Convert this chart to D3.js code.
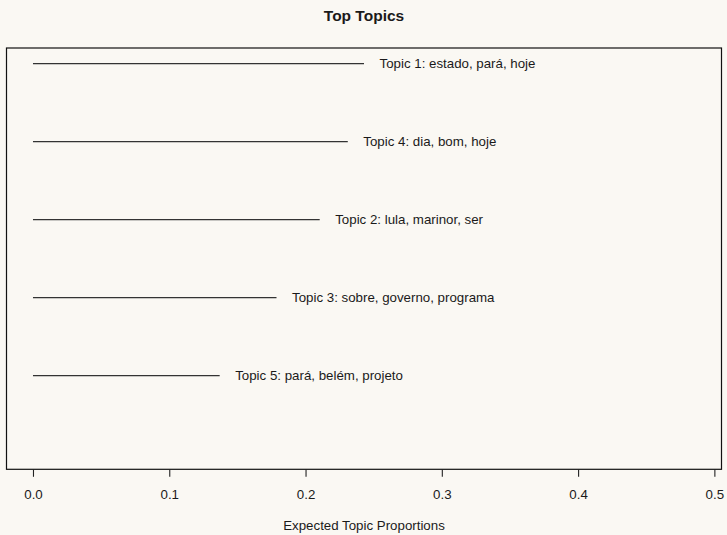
<!DOCTYPE html>
<html>
<head>
<meta charset="utf-8">
<script src="https://cdn.jsdelivr.net/npm/d3@7"></script>
<style>
  html, body { margin: 0; padding: 0; background: #faf8f3; }
  svg { display: block; }
  text { font-family: "Liberation Sans", Arial, Helvetica, sans-serif; fill: #1a1a1a; }
</style>
</head>
<body>
<svg id="chart" width="727" height="535"></svg>
<script>
// Data
const topicLabels = [
  "Topic 1: estado, pará, hoje",
  "Topic 4: dia, bom, hoje",
  "Topic 2: lula, marinor, ser",
  "Topic 3: sobre, governo, programa",
  "Topic 5: pará, belém, projeto"
];
const topicProportions = [0.2429, 0.2310, 0.2104, 0.1787, 0.1370];
const xTickValues = [0, 0.1, 0.2, 0.3, 0.4, 0.5];
const xTickLabels = ["0.0", "0.1", "0.2", "0.3", "0.4", "0.5"];
const chartTitle = "Top Topics";
const xAxisTitle = "Expected Topic Proportions";

const svg = d3.select("#chart");
const W = 727, H = 535;
const box = { left: 6.5, right: 721.5, top: 48, bottom: 469.3 };

svg.append("rect").attr("width", W).attr("height", H).attr("fill", "#faf8f3");

const xmax = 2 * d3.max(topicProportions);
const x = d3.scaleLinear()
  .domain([-0.04 * xmax, 1.04 * xmax])
  .range([box.left, box.right]);

const n = topicProportions.length;
const y = d3.scaleLinear()
  .domain([-0.04 * n, n + 0.04 * n])
  .range([box.bottom, box.top]);

// Lines and labels (top topic at y = n)
const g = svg.append("g");
topicProportions.forEach((v, i) => {
  const yy = y(n - i);
  g.append("line")
    .attr("x1", x(0)).attr("x2", x(v))
    .attr("y1", yy).attr("y2", yy)
    .attr("stroke", "#333").attr("stroke-width", 1.2);
  g.append("text")
    .attr("x", x(v) + 15.5)
    .attr("y", yy)
    .attr("dy", "0.36em")
    .attr("font-size", 13.3)
    .text(topicLabels[i]);
});

// Box
svg.append("rect")
  .attr("x", box.left).attr("y", box.top)
  .attr("width", box.right - box.left).attr("height", box.bottom - box.top)
  .attr("fill", "none").attr("stroke", "#111").attr("stroke-width", 1.2);

// Axis
const axis = d3.axisBottom(x)
  .tickValues(xTickValues)
  .tickFormat((d, i) => xTickLabels[i])
  .tickSize(7.5)
  .tickPadding(0);
const ax = svg.append("g")
  .attr("transform", `translate(0,${box.bottom})`)
  .call(axis);
ax.select(".domain").remove();
ax.selectAll(".tick line").attr("stroke", "#222").attr("stroke-width", 1.1);
ax.selectAll(".tick text")
  .attr("y", 30)
  .attr("dy", null)
  .attr("font-size", 13.3)
  .attr("font-family", "Liberation Sans, Arial, sans-serif")
  .attr("fill", "#1a1a1a");

// Axis title
svg.append("text")
  .attr("x", (box.left + box.right) / 2)
  .attr("y", 530)
  .attr("text-anchor", "middle")
  .attr("font-size", 13.3)
  .text(xAxisTitle);

// Title
svg.append("text")
  .attr("x", (box.left + box.right) / 2)
  .attr("y", 20.5)
  .attr("text-anchor", "middle")
  .attr("font-size", 15.5)
  .attr("font-weight", "bold")
  .text(chartTitle);
</script>
</body>
</html>
